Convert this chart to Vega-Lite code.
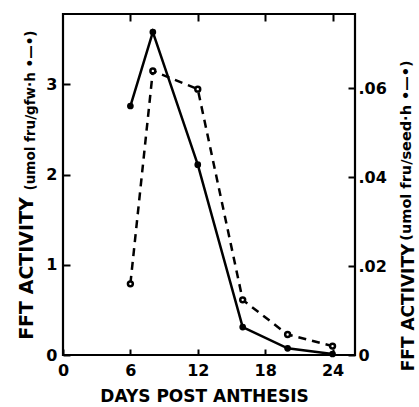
{
  "$schema": "https://vega.github.io/schema/vega-lite/v6.json",
  "width": 292,
  "height": 341,
  "autosize": {"type": "none"},
  "padding": {"left": 63, "top": 14, "right": 64, "bottom": 52},
  "background": "white",
  "config": {
    "view": {"stroke": "black", "strokeWidth": 2.2},
    "font": "DejaVu Sans",
    "axis": {"grid": false, "domain": false, "labelFont": "DejaVu Sans", "titleFont": "DejaVu Sans", "labelColor": "black", "titleColor": "black", "tickColor": "black"}
  },
  "data": {
    "values": [
      {"day": 6, "gfw": 2.76, "seed": 0.016},
      {"day": 8, "gfw": 3.58, "seed": 0.0639},
      {"day": 12, "gfw": 2.11, "seed": 0.0598},
      {"day": 16, "gfw": 0.31, "seed": 0.0124},
      {"day": 20, "gfw": 0.074, "seed": 0.0046},
      {"day": 24, "gfw": 0.011, "seed": 0.002}
    ]
  },
  "layer": [
    {
      "layer": [
        {
          "mark": {"type": "line", "color": "black", "strokeWidth": 2.5},
          "encoding": {
            "x": {
              "field": "day", "type": "quantitative",
              "scale": {"domain": [0, 26], "nice": false, "zero": false},
              "axis": {"orient": "bottom", "values": [0, 6, 12, 18, 24], "tickSize": -6, "tickWidth": 2, "labelPadding": 21, "labelBaseline": "middle", "labelFontSize": 16, "labelFontWeight": "bold", "labelFlush": false,
                "title": "DAYS POST ANTHESIS", "titleFontSize": 17, "titleFontWeight": "bold", "titleX": 141, "titleY": 41, "titleBaseline": "middle", "titleAlign": "center"}
            },
            "y": {
              "field": "gfw", "type": "quantitative",
              "scale": {"domain": [0, 3.78], "nice": false, "zero": true},
              "axis": {"orient": "left", "values": [0, 1, 2, 3], "tickSize": -7, "tickWidth": 2, "labelPadding": 13, "labelFontSize": 16, "labelFontWeight": "bold",
                "title": "FFT ACTIVITY", "titleFontSize": 19, "titleFontWeight": "bold", "titleAngle": -90, "titleX": -37, "titleY": 254, "titleAlign": "center", "titleBaseline": "middle"}
            }
          }
        },
        {
          "mark": {"type": "point", "shape": "circle", "filled": true, "color": "black", "size": 45, "opacity": 1},
          "encoding": {
            "x": {"field": "day", "type": "quantitative"},
            "y": {
              "field": "gfw", "type": "quantitative",
              "axis": {"orient": "left", "labels": false, "ticks": false, "domain": false,
                "title": "(umol fru/gfw·h •—•)", "titleFontSize": 13.5, "titleFontWeight": "bold", "titleAngle": -90, "titleX": -33, "titleY": 96, "titleAlign": "center", "titleBaseline": "middle"}
            }
          }
        }
      ],
      "resolve": {"axis": {"y": "independent"}}
    },
    {
      "layer": [
        {
          "mark": {"type": "line", "color": "black", "strokeWidth": 2.5, "strokeDash": [8, 6]},
          "encoding": {
            "x": {
              "field": "day", "type": "quantitative",
              "axis": {"orient": "top", "values": [6, 12, 18, 24], "labels": false, "tickSize": -7, "tickWidth": 2, "title": null}
            },
            "y": {
              "field": "seed", "type": "quantitative",
              "scale": {"domain": [0, 0.0767], "nice": false, "zero": true},
              "axis": {"orient": "right", "values": [0, 0.02, 0.04, 0.06], "tickSize": -7, "tickWidth": 2, "labelPadding": 10, "labelFontSize": 16, "labelFontWeight": "bold",
                "labelExpr": "datum.value == 0 ? '0' : replace(format(datum.value, '.2f'), '0.', '.')",
                "title": "FFT ACTIVITY", "titleFontSize": 17, "titleFontWeight": "bold", "titleAngle": -90, "titleX": 53, "titleY": 293, "titleAlign": "center", "titleBaseline": "middle"}
            }
          }
        },
        {
          "mark": {"type": "point", "shape": "circle", "filled": true, "fill": "white", "stroke": "black", "strokeWidth": 2.5, "size": 24, "opacity": 1},
          "encoding": {
            "x": {"field": "day", "type": "quantitative"},
            "y": {
              "field": "seed", "type": "quantitative",
              "axis": {"orient": "right", "labels": false, "ticks": false, "domain": false,
                "title": "(umol fru/seed·h •—•)", "titleFontSize": 14.5, "titleFontWeight": "bold", "titleAngle": -90, "titleX": 51, "titleY": 136, "titleAlign": "center", "titleBaseline": "middle"}
            }
          }
        }
      ],
      "resolve": {"axis": {"y": "independent"}}
    }
  ],
  "resolve": {"scale": {"y": "independent"}, "axis": {"x": "independent", "y": "independent"}}
}
